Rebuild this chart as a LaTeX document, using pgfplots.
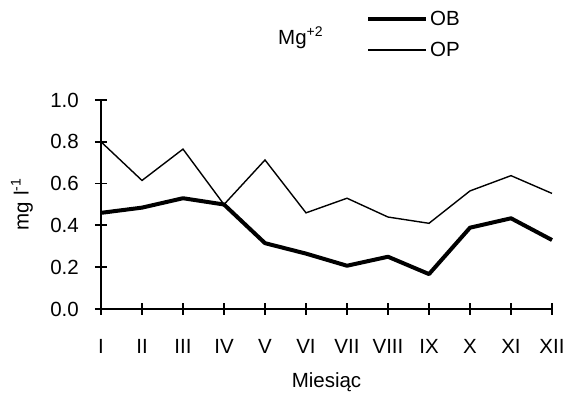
\documentclass[border=0pt]{standalone}
\usepackage{pgfplots}
\pgfplotsset{compat=1.18}
\usepackage{fontspec}
\setmainfont{Liberation Sans}
\newcommand{\bigf}{\fontsize{20.5}{24}\selectfont}
\newcommand{\supf}[1]{\raisebox{8pt}{\fontsize{14}{16}\selectfont #1}}
\begin{document}
\begin{tikzpicture}[x=1pt,y=1pt]
\useasboundingbox (0,0) rectangle (570,401);
\begin{axis}[
  at={(101pt,92pt)}, anchor=origin,
  scale only axis, width=451pt, height=209pt,
  xmin=1, xmax=12, ymin=0, ymax=1,
  axis lines*=left, axis line style={line width=1.8pt, -},
  every tick/.style={black, line width=1.8pt},
  tick align=center, major tick length=12pt,
  xtick={1,...,12},
  xticklabels={I,II,III,IV,V,VI,VII,VIII,IX,X,XI,XII},
  ytick={0,0.2,0.4,0.6,0.8,1.0},
  /pgf/number format/fixed, /pgf/number format/fixed zerofill, /pgf/number format/precision=1,
  /pgf/number format/assume math mode=true,
  ticklabel style={font=\bigf, inner sep=0pt},
  xticklabel style={anchor=base, yshift=-38pt},
  yticklabel style={anchor=east, xshift=-16pt},
  xlabel={Miesiąc}, xlabel style={font=\bigf, inner sep=0pt, at={(axis description cs:0.5,0)}, anchor=base, yshift=-79pt},
  ylabel={mg l\supf{-1}}, ylabel style={font=\bigf, inner sep=0pt, at={(axis description cs:0,0.5)}, anchor=center, rotate=0, yshift=79pt},
  clip=false,
  legend style={draw=none, fill=none, font=\bigf,
    at={(axis description cs:0.5876,1.435)}, anchor=north west, row sep=11pt, inner sep=0pt},
  legend cell align=left,
  legend image code/.code={\draw[#1] (0pt,0pt) -- (58pt,0pt);},
]
\addplot[black, line width=4pt, line join=round] coordinates {
(1,0.46) (2,0.485) (3,0.53) (4,0.50) (5,0.315) (6,0.265) (7,0.207) (8,0.25) (9,0.167) (10,0.389) (11,0.434) (12,0.33)};
\addlegendentry{OB}
\addplot[black, line width=1.4pt, line join=miter] coordinates {
(1,0.80) (2,0.615) (3,0.765) (4,0.50) (5,0.713) (6,0.46) (7,0.53) (8,0.44) (9,0.41) (10,0.565) (11,0.638) (12,0.553)};
\addlegendentry{OP}
\end{axis}
\node[font=\bigf, inner sep=0pt, anchor=base west] at (278,356) {Mg\supf{+2}};
\end{tikzpicture}
\end{document}
